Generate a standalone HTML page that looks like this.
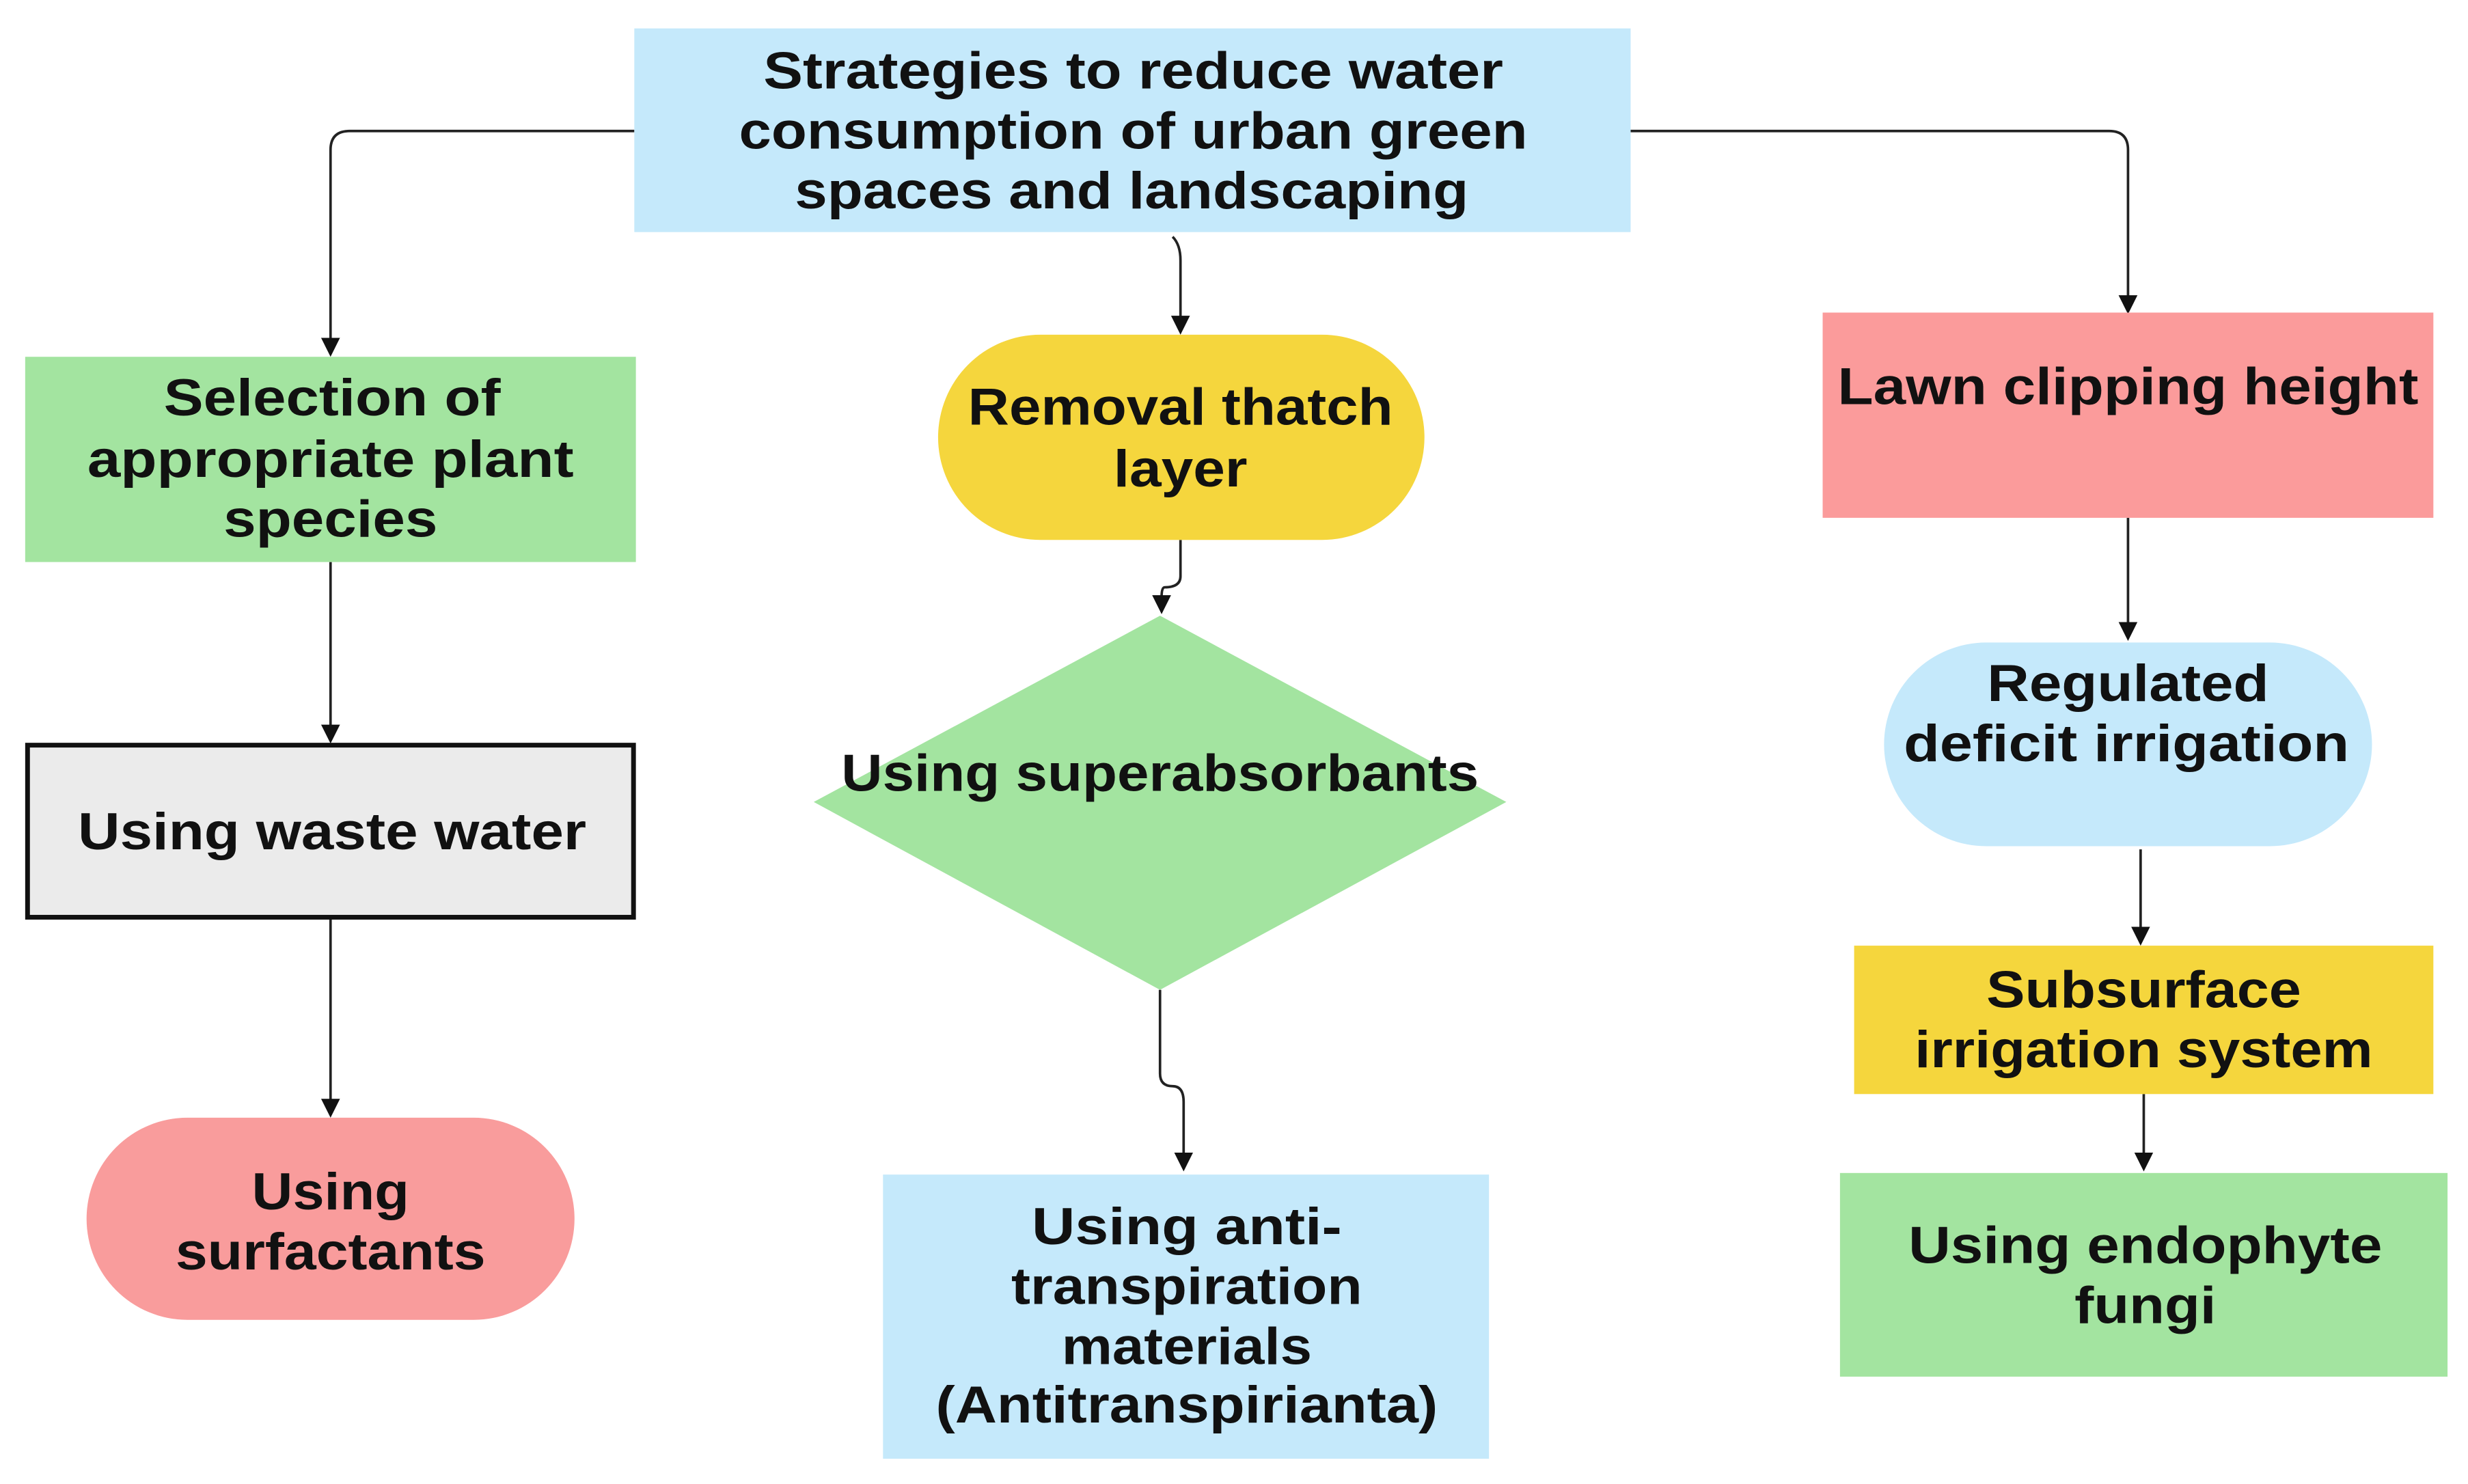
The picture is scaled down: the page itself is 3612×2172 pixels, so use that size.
<!DOCTYPE html>
<html><head><meta charset="utf-8"><style>
html,body{margin:0;padding:0;background:#fff;}
svg{display:block;}
text{font-family:"Liberation Sans",sans-serif;font-weight:bold;font-size:33px;fill:#111;text-anchor:middle;dominant-baseline:central;}
</style></head><body>
<svg width="3612" height="2172" viewBox="0 0 1568 940" preserveAspectRatio="none" xmlns="http://www.w3.org/2000/svg">
<defs><marker id="a" markerWidth="12" markerHeight="12" refX="6" refY="6" orient="auto" markerUnits="userSpaceOnUse"><path d="M0,0 L12,6 L0,12 Z" fill="#111"/></marker></defs>
<g stroke="#222" stroke-width="1.6" fill="none">
<path d="M403,83 H222 Q210,83 210,95 V220" marker-end="url(#a)"/>
<path d="M1036,83 H1340 Q1352,83 1352,95 V193" marker-end="url(#a)"/>
<path d="M745,150 Q750,155 750,165 V206" marker-end="url(#a)"/>
<path d="M210,356 V465" marker-end="url(#a)"/>
<path d="M210,581 V702" marker-end="url(#a)"/>
<path d="M750,342 V365 Q750,372 740,372 Q738,372 738,378 V383" marker-end="url(#a)"/>
<path d="M737,627 V680 Q737,688 745,688 Q752,688 752,698 V736" marker-end="url(#a)"/>
<path d="M1352,328 V400" marker-end="url(#a)"/>
<path d="M1360,538 V593" marker-end="url(#a)"/>
<path d="M1362,693 V736" marker-end="url(#a)"/>
</g>
<rect x="403" y="18" width="633" height="129" fill="#c5e9fb"/>
<rect x="16" y="226" width="388" height="130" fill="#a3e4a0"/>
<rect x="17.5" y="472" width="385" height="109" fill="#ebebeb" stroke="#111" stroke-width="3"/>
<rect x="55" y="708" width="310" height="128" rx="64" fill="#f99c9c"/>
<rect x="596" y="212" width="309" height="130" rx="65" fill="#f5d63d"/>
<path d="M737,390 L957,508 L737,627 L517,508 Z" fill="#a3e4a0"/>
<rect x="561" y="744" width="385" height="180" fill="#c5e9fb"/>
<rect x="1158" y="198" width="388" height="130" fill="#fb9b9b"/>
<rect x="1197" y="407" width="310" height="129" rx="65" fill="#c5e9fb"/>
<rect x="1178" y="599" width="368" height="94" fill="#f5d63d"/>
<rect x="1169" y="743" width="386" height="129" fill="#a3e4a0"/>
<g lengthAdjust="spacingAndGlyphs">
<text x="720" y="45" textLength="470" lengthAdjust="spacingAndGlyphs">Strategies to reduce water</text>
<text x="720" y="83" textLength="501" lengthAdjust="spacingAndGlyphs">consumption of urban green</text>
<text x="719" y="121" textLength="428" lengthAdjust="spacingAndGlyphs">spaces and landscaping</text>
<text x="211" y="252" textLength="214" lengthAdjust="spacingAndGlyphs">Selection of</text>
<text x="210" y="291" textLength="309" lengthAdjust="spacingAndGlyphs">appropriate plant</text>
<text x="210" y="329" textLength="136" lengthAdjust="spacingAndGlyphs">species</text>
<text x="211" y="527" textLength="323" lengthAdjust="spacingAndGlyphs">Using waste water</text>
<text x="210" y="755" textLength="100" lengthAdjust="spacingAndGlyphs">Using</text>
<text x="210" y="793" textLength="197" lengthAdjust="spacingAndGlyphs">surfactants</text>
<text x="750" y="258" textLength="270" lengthAdjust="spacingAndGlyphs">Removal thatch</text>
<text x="750" y="297" textLength="85" lengthAdjust="spacingAndGlyphs">layer</text>
<text x="737" y="490" textLength="405" lengthAdjust="spacingAndGlyphs">Using superabsorbants</text>
<text x="754" y="777" textLength="197" lengthAdjust="spacingAndGlyphs">Using anti-</text>
<text x="754" y="815" textLength="223" lengthAdjust="spacingAndGlyphs">transpiration</text>
<text x="754" y="853" textLength="159" lengthAdjust="spacingAndGlyphs">materials</text>
<text x="754" y="890" textLength="319" lengthAdjust="spacingAndGlyphs">(Antitranspirianta)</text>
<text x="1352" y="245" textLength="369" lengthAdjust="spacingAndGlyphs">Lawn clipping height</text>
<text x="1352" y="433" textLength="179" lengthAdjust="spacingAndGlyphs">Regulated</text>
<text x="1351" y="471" textLength="283" lengthAdjust="spacingAndGlyphs">deficit irrigation</text>
<text x="1362" y="627" textLength="200" lengthAdjust="spacingAndGlyphs">Subsurface</text>
<text x="1362" y="665" textLength="291" lengthAdjust="spacingAndGlyphs">irrigation system</text>
<text x="1363" y="789" textLength="301" lengthAdjust="spacingAndGlyphs">Using endophyte</text>
<text x="1363" y="827" textLength="90" lengthAdjust="spacingAndGlyphs">fungi</text>
</g>
</svg>
</body></html>
